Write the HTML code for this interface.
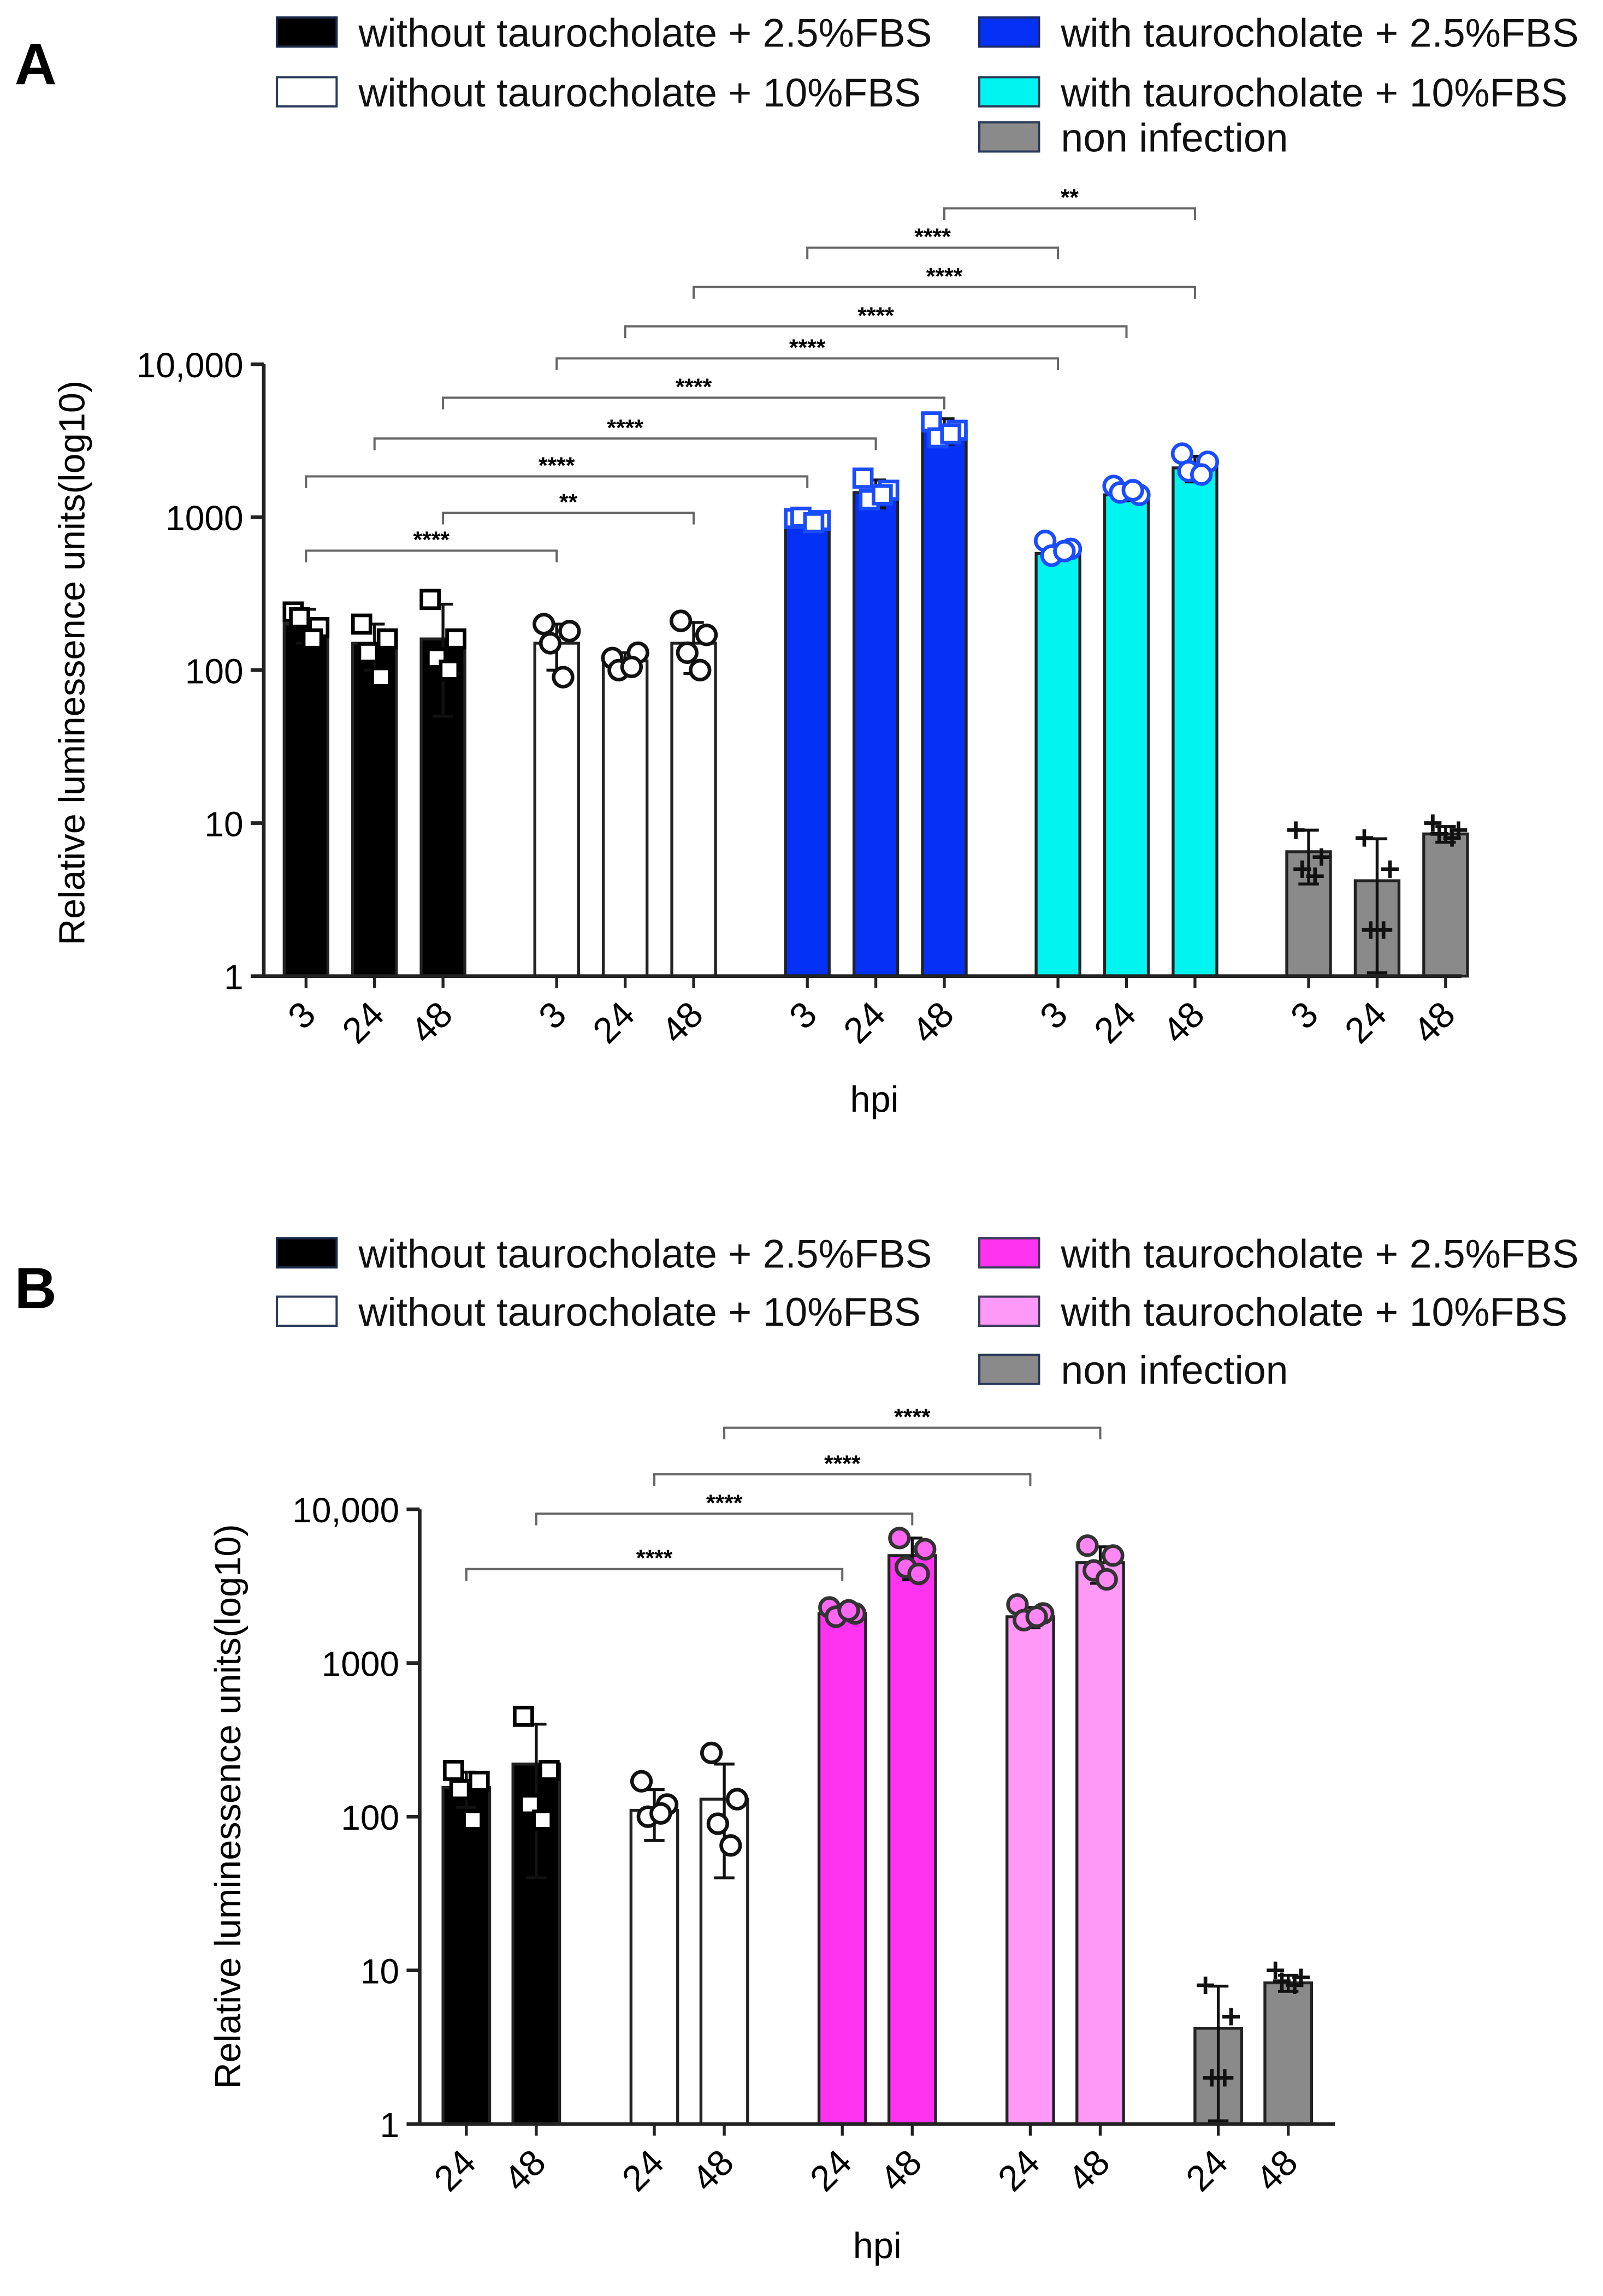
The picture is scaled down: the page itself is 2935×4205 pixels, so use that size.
<!DOCTYPE html>
<html><head><meta charset="utf-8"><style>
html,body{margin:0;padding:0;background:#fff;}
svg{display:block;font-family:"Liberation Sans",Arial,sans-serif;}
</style></head><body>
<svg id="fig" width="2935" height="4205" viewBox="0 0 1100 1576" preserveAspectRatio="none" xmlns="http://www.w3.org/2000/svg">
<rect width="1100" height="1576" fill="#fff"/>
<g id="gA"></g>
<g id="gB"></g>
</svg>
<script>
// ---------- Panel A data ----------
const catsA = ["3","24","48","3","24","48","3","24","48","3","24","48","3","24","48"];
const valsA = [200,150,160,150,115,150,950,1450,3700,580,1400,2100,6.5,4.2,8.5];
const errA = [50,50,110,50,15,55,60,300,700,60,120,400,2.5,3.7,1];
const ptsA = [[240,190,220,160],[200,160,130,90],[290,160,120,100],[200,180,150,90],[120,130,100,105],[210,170,130,100],[980,950,1000,920],[1800,1500,1300,1400],[4200,3700,3300,3500],[700,620,560,600],[1600,1400,1450,1500],[2600,2300,2000,1900],[9,6,5,4.5],[8,5,2,2],[10,9,8.5,8]];
const groupA = [0,0,0,1,1,1,2,2,2,3,3,3,4,4,4];
const brA_from = [8,6,5,4,3,2,1,0,2,0];
const brA_to   = [11,9,11,10,9,8,7,6,5,3];
const brA_lab  = ["**","****","****","****","****","****","****","****","**","****"];
const ticksA = [1,10,100,1000,10000];
const tickLabA = ["1","10","100","1000","10,000"];
// ---------- Panel B data ----------
const catsB = ["24","48","24","48","24","48","24","48","24","48"];
const valsB = [155,220,110,130,2100,5000,2000,4500,4.2,8.3];
const errB = [40,180,40,90,200,1500,300,1200,3.7,1];
const ptsB = [[200,170,150,95],[450,200,120,95],[170,120,100,105],[260,130,90,65],[2300,2100,2000,2200],[6500,5500,4200,3800],[2400,2100,1900,2000],[5800,5000,4000,3500],[8,5,2,2],[10,9,8.5,8]];
const groupB = [0,0,1,1,2,2,3,3,4,4];
const brB_from = [0,1,2,3];
const brB_to = [4,5,6,7];
const brB_lab = ["****","****","****","****"];

const NS="http://www.w3.org/2000/svg";
function mk(parent,tag,attrs,text){const e=document.createElementNS(NS,tag);for(const k in attrs)e.setAttribute(k,attrs[k]);if(text!==undefined)e.textContent=text;parent.appendChild(e);return e;}

function drawPanel(g,cfg){
  const y=v=>cfg.y1-(Math.log10(v))*cfg.dec;
  const xs=cfg.cats.map((c,i)=>cfg.x0+i*cfg.step+cfg.group[i]*cfg.gap);
  cfg.legend.forEach((L,i)=>{
    const sw=mk(g,'rect',{x:L[0],y:L[1]-10,width:41,height:20,fill:L[3],stroke:L[4],'stroke-width':1.5});
    
    
    const t=mk(g,'text',{x:L[0]+56,y:L[1]+10,'font-size':27.5,fill:'#111'},L[2]);
    
    
  });
  const pl=mk(g,'text',{x:cfg.labX,y:cfg.labY,'font-size':40,'font-weight':'bold'},cfg.label);
  
  
  cfg.vals.forEach((v,i)=>{
    const grp=cfg.group[i];const st=cfg.styles[grp];
    const b=mk(g,'rect',{x:xs[i]-cfg.bw/2,y:y(v),width:cfg.bw,height:cfg.y1-y(v),fill:st.fill,stroke:'#222','stroke-width':2});
    
    
    const top=v+cfg.err[i],bot=Math.max(v-cfg.err[i],1.05);
    const e=mk(g,'path',{d:`M${xs[i]} ${y(top)}V${y(bot)}M${xs[i]-7} ${y(top)}h14M${xs[i]-7} ${y(bot)}h14`,stroke:'#111','stroke-width':2,fill:'none'});
    
    
    cfg.pts[i].forEach((p,j)=>{
      const px=xs[i]+[-8,8,-4,4][j%4]*1.1, py=y(p);
      let m;
      if(st.mk==='sq'){m=mk(g,'rect',{x:px-6,y:py-6,width:12,height:12,fill:'#fff',stroke:st.ms,'stroke-width':2.5});}
      else if(st.mk==='ci'){m=mk(g,'circle',{cx:px,cy:py,r:6.5,fill:st.mf||'#fff',stroke:st.ms,'stroke-width':2.5});}
      else {m=mk(g,'path',{d:`M${px-6} ${py}h12M${px} ${py-6}v12`,stroke:'#111','stroke-width':2.5});}
      
      
    });
    const tk=mk(g,'line',{x1:xs[i],x2:xs[i],y1:cfg.y1,y2:cfg.y1+8,stroke:'#222','stroke-width':2});
    
    
    const tl=mk(g,'text',{x:xs[i]+8,y:cfg.y1+28,'font-size':25,'text-anchor':'end',transform:`rotate(-45 ${xs[i]+8} ${cfg.y1+28})`},cfg.cats[i]);
    
    
  });
  const ax=mk(g,'path',{d:`M${cfg.ax} ${y(10000)}V${cfg.y1}H${cfg.axEnd}`,stroke:'#222','stroke-width':2.5,fill:'none'});
  
  
  ticksA.forEach((t,i)=>{
    const tk=mk(g,'line',{x1:cfg.ax-9,x2:cfg.ax,y1:y(t),y2:y(t),stroke:'#222','stroke-width':2.5});
    
    
    const tl=mk(g,'text',{x:cfg.ax-14,y:y(t)+9,'font-size':24,'text-anchor':'end'},tickLabA[i]);
    
    
  });
  const yt=mk(g,'text',{x:cfg.ytX,y:cfg.ytY,'font-size':25,'text-anchor':'middle',transform:`rotate(-90 ${cfg.ytX} ${cfg.ytY})`},'Relative luminessence units(log10)');
  
  
  const xt=mk(g,'text',{x:cfg.xtX,y:cfg.xtY,'font-size':25,'text-anchor':'middle'},'hpi');
  
  
  cfg.bf.forEach((f,k)=>{
    const a=xs[f],b=xs[cfg.bt[k]],by=cfg.by[k];
    const p=mk(g,'path',{d:`M${a} ${by+8}V${by}H${b}V${by+8}`,stroke:'#666','stroke-width':1.5,fill:'none'});
    
    
    const s=mk(g,'text',{x:(a+b)/2,y:by-2,'font-size':16,'font-weight':'bold','text-anchor':'middle'},cfg.bl[k]);
    
    
  });
}

drawPanel(document.getElementById('gA'),{
  cats:catsA,vals:valsA,err:errA,pts:ptsA,group:groupA,
  x0:210,step:47,gap:31,bw:30,y1:670,dec:105,ax:181,axEnd:1003,
  styles:[{fill:'#000',mk:'sq',ms:'#000'},{fill:'#fff',mk:'ci',ms:'#111'},{fill:'#0530f5',mk:'sq',ms:'#1a4cff'},{fill:'#00f5f0',mk:'ci',ms:'#1a4cff'},{fill:'#8a8a8a',mk:'pl'}],
  legend:[[190,22,'without taurocholate + 2.5%FBS','#000','#1a2a4a'],[190,63,'without taurocholate + 10%FBS','#fff','#2a3a5a'],[672,22,'with taurocholate + 2.5%FBS','#0530f5','#1a2a6a'],[672,63,'with taurocholate + 10%FBS','#00f5f0','#2a3a5a'],[672,94,'non infection','#8a8a8a','#2a3a5a']],
  label:'A',labX:10,labY:58,ytX:58,ytY:455,xtX:600,xtY:763,
  bf:brA_from,bt:brA_to,bl:brA_lab,by:[143,170,197,224,246,273,301,327,352,378]
});
drawPanel(document.getElementById('gB'),{
  cats:catsB,vals:valsB,err:errB,pts:ptsB,group:groupB,
  x0:320,step:48,gap:33,bw:32,y1:1458,dec:105.5,ax:288,axEnd:916,
  styles:[{fill:'#000',mk:'sq',ms:'#000'},{fill:'#fff',mk:'ci',ms:'#111'},{fill:'#ff33f0',mk:'ci',ms:'#333',mf:'#ff66f2'},{fill:'#ff99f7',mk:'ci',ms:'#333',mf:'#ff88f4'},{fill:'#8a8a8a',mk:'pl'}],
  legend:[[190,860,'without taurocholate + 2.5%FBS','#000','#1a2a4a'],[190,900,'without taurocholate + 10%FBS','#fff','#2a3a5a'],[672,860,'with taurocholate + 2.5%FBS','#ff33f0','#3a3a5a'],[672,900,'with taurocholate + 10%FBS','#ff99f7','#3a3a5a'],[672,940,'non infection','#8a8a8a','#2a3a5a']],
  label:'B',labX:10,labY:898,ytX:165,ytY:1240,xtX:602,xtY:1550,
  bf:brB_from,bt:brB_to,bl:brB_lab,by:[1077,1039,1012,980]
});
</script>
</body></html>
